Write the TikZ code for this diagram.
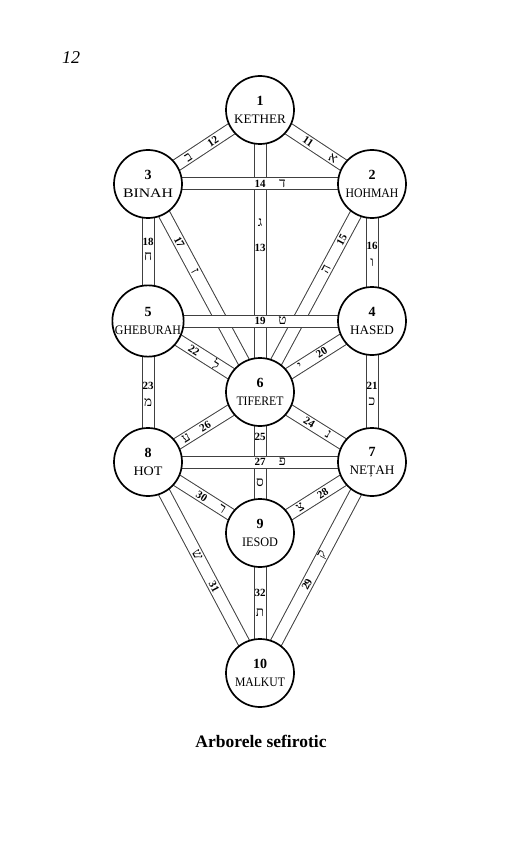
\documentclass[tikz,border=0pt]{standalone}
\usepackage{fontspec}
\usepackage{graphicx}
\setmainfont{Liberation Serif}
\newfontfamily\hebfont[Script=Hebrew]{Liberation Serif}
\usetikzlibrary{backgrounds}
\tikzset{sef/.style={circle,draw=black,line width=1.7pt,fill=white,minimum size=68pt,inner sep=0pt,align=center,font=\fontsize{13}{18}\selectfont}}
\tikzset{chan/.style={draw=black!75,line width=1pt,double=white,double distance=11pt}}
\tikzset{num/.style={font=\bfseries\fontsize{11}{11}\selectfont,inner sep=0pt}}
\tikzset{heb/.style={font=\hebfont\fontsize{13.5}{13.5}\selectfont,inner sep=0pt}}
\newcommand{\nr}[1]{{\bfseries\fontsize{14}{18}\selectfont #1}}
\newcommand{\nm}[2]{\resizebox{#1pt}{\height}{#2}}

\begin{document}
\begin{tikzpicture}[x=1pt,y=-1pt]
\useasboundingbox (0,0) rectangle (529,850);

\node[font=\itshape\fontsize{18}{20}\selectfont] (page) at (71,58) {12};

\node[sef] (kether) at (260,110) {\nr{1}\\\nm{52}{KETHER}};
\node[sef] (binah) at (148,184) {\nr{3}\\\nm{50}{BINAH}};
\node[sef] (hohmah) at (372,184) {\nr{2}\\\nm{53}{HOHMAH}};
\node[sef] (gheburah) at (148,321) {\nr{5}\\\nm{66}{GHEBURAH}};
\node[sef] (hased) at (372,321) {\nr{4}\\\nm{44}{HASED}};
\node[sef] (tiferet) at (260,392) {\nr{6}\\\nm{47}{TIFERET}};
\node[sef] (hot) at (148,462) {\nr{8}\\\nm{29}{HOT}};
\node[sef] (netah) at (372,462) {\nr{7}\\\nm{45}{NEȚAH}};
\node[sef] (iesod) at (260,533) {\nr{9}\\\nm{36}{IESOD}};
\node[sef] (malkut) at (260,673) {\nr{10}\\\nm{50}{MALKUT}};

\node[font=\bfseries\fontsize{17.5}{20}\selectfont] (title) at (261,741) {Arborele sefirotic};

\begin{scope}[on background layer]
% slanted and upright paths
\draw[chan] (kether.center) -- (binah.center) node[num,sloped,pos=.42] {12} node[heb,sloped,pos=.64] {ב};
\draw[chan] (kether.center) -- (hohmah.center) node[num,sloped,pos=.43] {11} node[heb,sloped,pos=.65] {א};
\draw[chan] (kether.center) -- (tiferet.center) node[heb,pos=.40] {ג} node[num,pos=.49] {13};
\draw[chan] (binah.center) -- (tiferet.center) node[num,sloped,pos=.28] {17} node[heb,sloped,pos=.42] {ז};
\draw[chan] (hohmah.center) -- (tiferet.center) node[num,sloped,pos=.27] {15} node[heb,sloped,pos=.41] {ה};
\draw[chan] (binah.center) -- (gheburah.center) node[num,pos=.42] {18} node[heb,pos=.53] {ח};
\draw[chan] (hohmah.center) -- (hased.center) node[num,pos=.45] {16} node[heb,pos=.57] {ו};
\draw[chan] (hased.center) -- (tiferet.center) node[num,sloped,pos=.45] {20} node[heb,sloped,pos=.64] {י};
\draw[chan] (gheburah.center) -- (tiferet.center) node[num,sloped,pos=.41] {22} node[heb,sloped,pos=.61] {ל};
\draw[chan] (hased.center) -- (netah.center) node[num,pos=.46] {21} node[heb,pos=.57] {כ};
\draw[chan] (gheburah.center) -- (hot.center) node[num,pos=.46] {23} node[heb,pos=.58] {מ};
\draw[chan] (tiferet.center) -- (netah.center) node[num,sloped,pos=.44] {24} node[heb,sloped,pos=.61] {נ};
\draw[chan] (tiferet.center) -- (hot.center) node[num,sloped,pos=.49] {26} node[heb,sloped,pos=.66] {ע};
\draw[chan] (tiferet.center) -- (iesod.center) node[num,pos=.32] {25} node[heb,pos=.64] {ס};
\draw[chan] (netah.center) -- (iesod.center) node[num,sloped,pos=.44] {28} node[heb,sloped,pos=.64] {צ};
\draw[chan] (hot.center) -- (iesod.center) node[num,sloped,pos=.48] {30} node[heb,sloped,pos=.66] {ר};
\draw[chan] (netah.center) -- (malkut.center) node[heb,sloped,pos=.44] {ק} node[num,sloped,pos=.58] {29};
\draw[chan] (hot.center) -- (malkut.center) node[heb,sloped,pos=.44] {ש} node[num,sloped,pos=.59] {31};
\draw[chan] (iesod.center) -- (malkut.center) node[num,pos=.43] {32} node[heb,pos=.57] {ת};
% cross paths on top
\draw[chan] (binah.center) -- (hohmah.center) node[num,pos=.5] {14} node[heb,pos=.6] {ד};
\draw[chan] (gheburah.center) -- (hased.center) node[num,pos=.5] {19} node[heb,pos=.6] {ט};
\draw[chan] (hot.center) -- (netah.center) node[num,pos=.5] {27} node[heb,pos=.6] {פ};
\end{scope}

\end{tikzpicture}
\end{document}
